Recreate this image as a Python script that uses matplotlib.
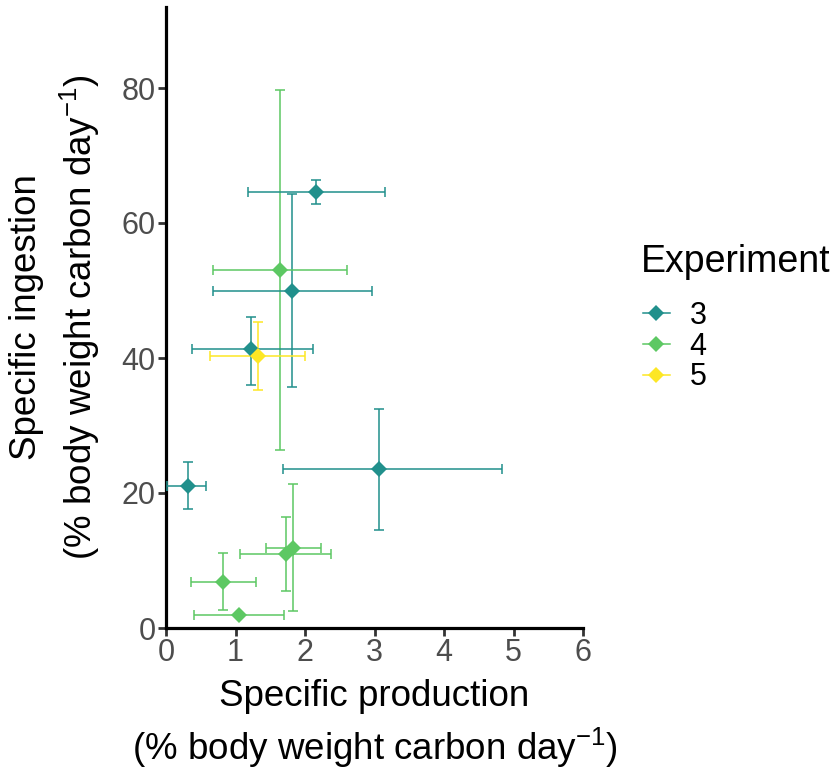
import numpy as np
import matplotlib
matplotlib.use("Agg")
import matplotlib.pyplot as plt
from matplotlib.lines import Line2D

plt.rcParams['font.family'] = ['Liberation Sans', 'DejaVu Sans']
plt.rcParams['mathtext.fontset'] = 'custom'
plt.rcParams['mathtext.rm'] = 'Liberation Sans'
plt.rcParams['mathtext.default'] = 'regular'

# experiment 3
x3 = [2.16, 1.82, 1.23, 0.31, 3.06]
y3 = [64.6, 50.0, 41.3, 21.1, 23.5]
x3_lo = [1.18, 0.68, 0.38, 0.02, 1.69]
x3_hi = [3.15, 2.97, 2.11, 0.58, 4.83]
y3_lo = [62.8, 35.7, 36.0, 17.7, 14.5]
y3_hi = [66.3, 64.3, 46.1, 24.6, 32.4]

# experiment 4
x4 = [1.645, 1.83, 1.72, 0.82, 1.05]
y4 = [53.0, 11.9, 10.9, 6.8, 1.9]
x4_lo = [0.68, 1.44, 1.06, 0.36, 0.41]
x4_hi = [2.61, 2.23, 2.37, 1.29, 1.70]
y4_lo = [26.4, 2.5, 5.5, 2.6, 1.9]
y4_hi = [79.7, 21.4, 16.4, 11.1, 1.9]

# experiment 5
x5 = [1.32]
y5 = [40.3]
x5_lo = [0.63]
x5_hi = [2.00]
y5_lo = [35.3]
y5_hi = [45.4]

experiments = ['3', '4', '5']
colors = ['#21908C', '#5DC863', '#FDE725']

groups = [
    (x3, y3, x3_lo, x3_hi, y3_lo, y3_hi),
    (x4, y4, x4_lo, x4_hi, y4_lo, y4_hi),
    (x5, y5, x5_lo, x5_hi, y5_lo, y5_hi),
]

W, H = 833, 771
fig = plt.figure(figsize=(W / 100, H / 100), dpi=100)
ax = fig.add_axes([166 / W, (H - 628) / H, (583 - 166) / W, (628 - 7) / H])

lw = 1.1
cap = 3.5

# vertical error bars
for (x, y, xl, xh, yl, yh), c in zip(groups, colors):
    x = np.array(x); y = np.array(y)
    yerr = [y - np.array(yl), np.array(yh) - y]
    ax.errorbar(x, y, yerr=yerr, fmt='none', ecolor=c, elinewidth=lw,
                capsize=cap, capthick=lw, zorder=2)

# horizontal error bars
for (x, y, xl, xh, yl, yh), c in zip(groups, colors):
    x = np.array(x); y = np.array(y)
    xerr = [x - np.array(xl), np.array(xh) - x]
    ax.errorbar(x, y, xerr=xerr, fmt='none', ecolor=c, elinewidth=lw,
                capsize=cap, capthick=lw, zorder=3)

# points
for (x, y, xl, xh, yl, yh), c in zip(groups, colors):
    ax.plot(x, y, linestyle='none', marker='D', markersize=8,
            color=c, markeredgewidth=0, zorder=4)

ax.set_xlim(0, 6)
ax.set_ylim(0, 92)
ax.set_xticks(range(0, 7))
ax.set_yticks([0, 20, 40, 60, 80])

for s in ['top', 'right']:
    ax.spines[s].set_visible(False)
for s in ['left', 'bottom']:
    ax.spines[s].set_linewidth(2.3)
    ax.spines[s].set_color('black')
    ax.spines[s].set_capstyle('projecting')
ax.tick_params(axis='both', length=5.5, width=2.0, color='#333333',
               labelsize=22, labelcolor='#4D4D4D', pad=2)

# axis titles
fs_title = 26.5
fig.text(374.5 / W, 1 - 697 / H, 'Specific production', ha='center', va='center', fontsize=fs_title)
fig.text(374.5 / W, 1 - 748 / H, '(% body weight carbon day$^{−1}$)', ha='center', va='center',
         fontsize=fs_title)
fig.text(27 / W, 1 - 317.5 / H, 'Specific ingestion', ha='center', va='center',
         rotation=90, fontsize=fs_title)
fig.text(80 / W, 1 - 317.5 / H, '(% body weight carbon day$^{−1}$)', ha='center', va='center',
         rotation=90, fontsize=fs_title)

# legend (title drawn separately to match spacing)
fig.text(641 / W, 1 - 262 / H, 'Experiment', ha='left', va='center', fontsize=27)
handles = [Line2D([0], [0], color=c, marker='D', markersize=8, linewidth=lw,
                  markeredgewidth=0) for c in colors]
leg = fig.legend(handles, experiments, loc='upper left',
                 bbox_to_anchor=(643 / W, 1 - 301 / H), frameon=False,
                 fontsize=22, handlelength=0.88,
                 handletextpad=0.65, labelspacing=0.02, borderaxespad=0,
                 borderpad=0)

fig.savefig('out.png', dpi=100)
